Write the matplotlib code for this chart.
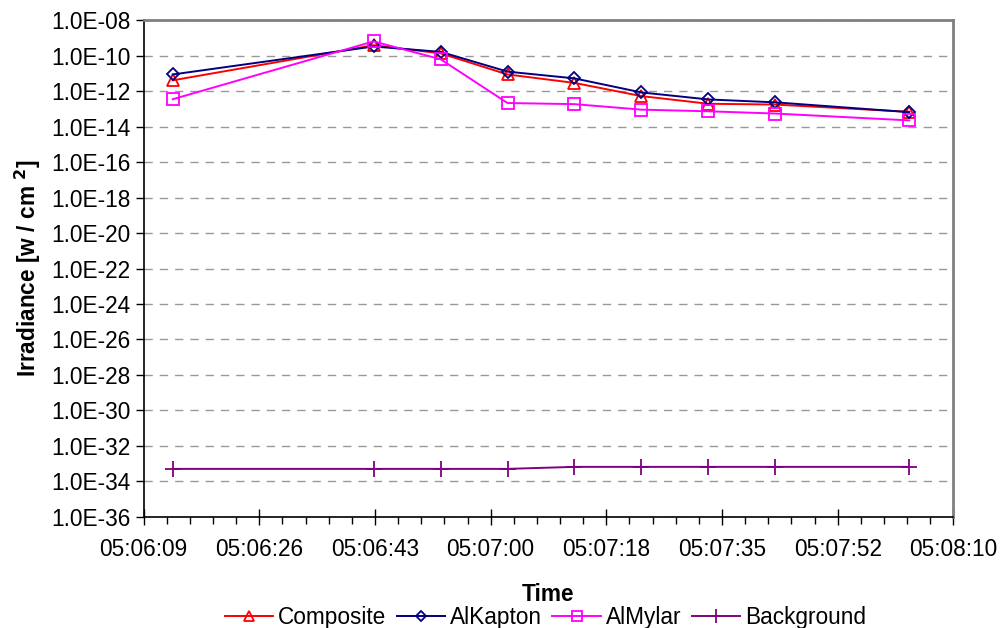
import numpy as np
import matplotlib
matplotlib.use("Agg")
import matplotlib.pyplot as plt
from matplotlib.ticker import FixedLocator, FuncFormatter, NullFormatter

plt.rcParams['font.family'] = ['Liberation Sans', 'DejaVu Sans']

times = ["05:06:13", "05:06:43", "05:06:53", "05:07:03", "05:07:13",
         "05:07:23", "05:07:33", "05:07:43", "05:08:03"]
composite = [4.2e-12, 4.0e-10, 1.4e-10, 9.0e-12, 3.0e-12, 5.4e-13, 2.0e-13, 1.8e-13, 7.0e-14]
alkapton = [9.0e-12, 3.4e-10, 1.7e-10, 1.3e-11, 5.4e-12, 8.7e-13, 3.5e-13, 2.4e-13, 6.7e-14]
almylar = [3.6e-13, 6.6e-10, 6.5e-11, 2.2e-13, 1.9e-13, 9.3e-14, 7.5e-14, 5.6e-14, 2.3e-14]
background = [5.0e-34, 5.0e-34, 5.0e-34, 5.0e-34, 6.5e-34, 6.5e-34, 6.5e-34, 6.5e-34, 6.5e-34]

xtick_labels = ["05:06:09", "05:06:26", "05:06:43", "05:07:00",
                "05:07:18", "05:07:35", "05:07:52", "05:08:10"]
xtick_days = [0.2126, 0.2128, 0.2130, 0.2132, 0.2134, 0.2136, 0.2138, 0.2140]


def to_day(s):
    h, m, sec = (int(v) for v in s.split(":"))
    return (h * 3600 + m * 60 + sec) / 86400.0


x = [to_day(t) for t in times]

fig = plt.figure(figsize=(10.01, 6.28), dpi=100)
L, R, T, B = 0.1434, 0.9525, 0.9674, 0.1772
ax = fig.add_axes([L, B, R - L, T - B])

fs = 16.3
series = [
    ("Composite", composite, "#FF0000", "^", 9),
    ("AlKapton", alkapton, "#000080", "D", 6),
    ("AlMylar", almylar, "#FF00FF", "s", 8),
    ("Background", background, "#800080", "+", 12),
]
for name, vals, col, mk, ms in series:
    ax.plot(x, vals, color=col, lw=1.4, marker=mk, ms=ms, mfc="none",
            mec=col, mew=1.3, label=name, clip_on=False)

ax.set_yscale("log")
ax.set_ylim(1e-36, 1e-8)
yt = 10.0 ** np.arange(-36, -7, 2)
ax.yaxis.set_major_locator(FixedLocator(yt))
ax.yaxis.set_minor_locator(FixedLocator([]))
ax.yaxis.set_minor_formatter(NullFormatter())
ax.yaxis.set_major_formatter(FuncFormatter(lambda v, p: "1.0E-%02d" % int(round(-np.log10(v)))))
ax.grid(axis="y", which="major", color="#999999", ls=(0, (6, 5)), lw=1.0)

ax.set_xlim(xtick_days[0], xtick_days[-1])
ax.set_xticks(xtick_days)
ax.set_xticklabels(xtick_labels)
minor = [xtick_days[0] + i * 0.00004 for i in range(36)]
ax.xaxis.set_minor_locator(FixedLocator(minor))

ax.tick_params(axis="y", which="major", direction="out", length=6, width=1, labelsize=fs, pad=3.5)
ax.tick_params(axis="x", which="major", direction="inout", length=12, width=1, labelsize=fs, pad=9)
ax.tick_params(axis="x", which="minor", direction="out", length=5, width=1)

for side in ["left", "bottom"]:
    ax.spines[side].set_color("black")
    ax.spines[side].set_linewidth(1.2)
for side in ["top", "right"]:
    ax.spines[side].set_color("#808080")
    ax.spines[side].set_linewidth(2)

ax.set_ylabel("Irradiance [w / cm $^{\\mathbf{2}}$]", fontsize=fs, fontweight="bold", labelpad=6)
ax.set_xlabel("Time", fontsize=fs, fontweight="bold", labelpad=16)

cx = (L + R) / 2
fig.legend(loc="center", bbox_to_anchor=(cx - 0.003, 0.0175), ncol=4, frameon=False,
           fontsize=fs, handlelength=2.15, handletextpad=0.22, columnspacing=0.45,
           borderaxespad=0, borderpad=0, markerscale=0.85)

fig.savefig("out.png", dpi=100)
